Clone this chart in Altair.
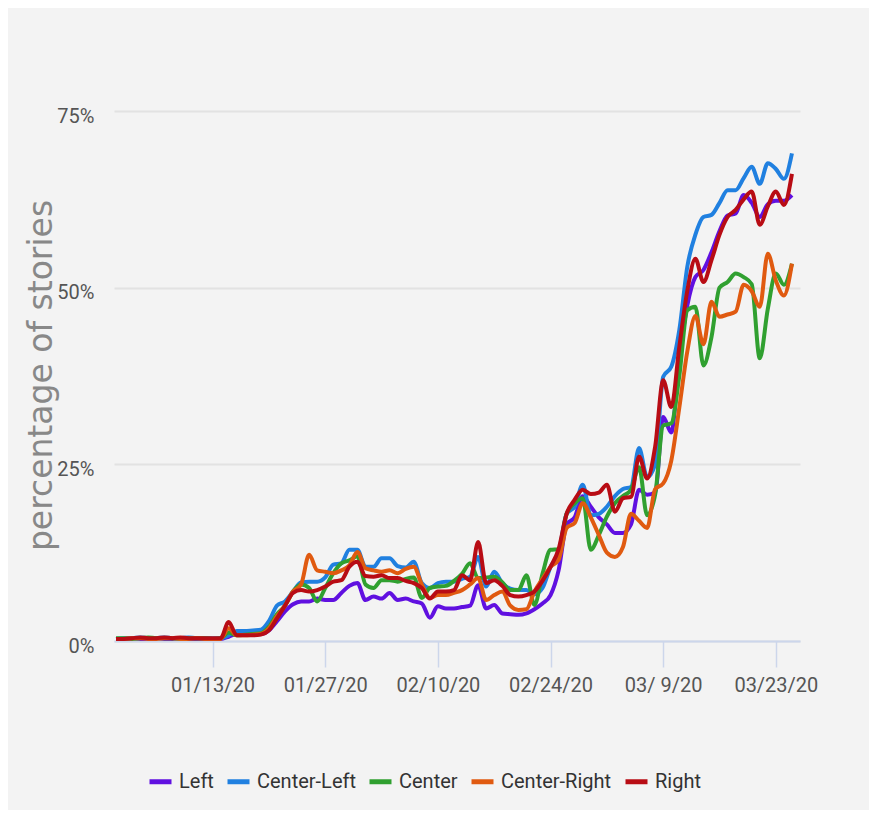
import altair as alt
import pandas as pd

# ---- data (percent of stories), daily from 2020-01-01 to 2020-03-25 ----
dates = [d.strftime("%Y-%m-%dT00:00:00") for d in pd.date_range("2020-01-01", "2020-03-25", freq="D")]

series_names = ["Left", "Center-Left", "Center", "Center-Right", "Right"]
series_colors = ["#6010e0", "#2080e0", "#30a030", "#e05a10", "#b80c14"]

left = [
    0.3, 0.3, 0.4, 0.3, 0.3, 0.4, 0.3, 0.3, 0.4, 0.3, 0.3, 0.3, 0.3, 0.3,
    0.6, 1.0, 1.0, 1.0, 1.0,
    1.5, 2.8, 4.2, 5.2, 5.6, 5.6, 6.0, 5.8, 5.8, 6.8,
    7.8, 8.2, 5.8, 6.3, 6.0, 6.8, 5.8, 6.0, 5.6, 5.3,
    3.3, 4.9, 4.6, 4.6, 4.8, 5.0, 7.9, 4.6, 5.1, 3.9,
    3.8, 3.7, 3.9, 4.5, 5.3, 6.5, 10.0, 16.5, 17.5, 20.5,
    19.0, 17.5, 16.5, 15.3, 15.3, 16.5, 21.4, 20.7, 21.0, 31.7,
    29.5, 40.0, 47.5, 51.5, 52.5, 55.0, 58.0, 60.2, 60.5, 63.1,
    62.0, 60.0, 61.8, 62.3, 62.3, 63.1,
]
center_left = [
    0.3, 0.4, 0.4, 0.5, 0.4, 0.4, 0.5, 0.4, 0.4, 0.5, 0.4, 0.4, 0.4, 0.4,
    0.8, 1.4, 1.4, 1.5, 1.6,
    2.8, 5.0, 5.6, 7.0, 8.3, 8.4, 8.4, 9.0, 10.8, 11.0,
    12.9, 12.9, 10.5, 10.5, 11.7, 11.7, 10.6, 10.4, 11.2, 8.2,
    7.5, 8.2, 8.4, 8.4, 8.8, 9.1, 11.9, 7.7, 9.8, 8.2,
    7.4, 7.2, 7.2, 6.6, 7.5, 10.5, 12.5, 18.0, 19.0, 22.1,
    17.8, 18.0, 19.0, 20.5, 21.5, 21.8, 27.3, 23.2, 25.0, 37.4,
    38.8, 44.0, 53.0, 57.5, 60.0, 60.3, 62.0, 63.8, 63.8, 65.5,
    67.1, 64.7, 67.6, 66.8, 65.4, 69.0,
]
center = [
    0.4, 0.4, 0.3, 0.4, 0.5, 0.4, 0.4, 0.4, 0.3, 0.4, 0.4, 0.4, 0.3, 0.4,
    1.2, 0.8, 0.9, 1.0, 1.1,
    2.0, 3.8, 5.0, 7.0, 8.0, 7.5, 5.6, 7.5, 9.6, 11.0,
    11.4, 12.0, 8.0, 7.5, 8.6, 8.6, 8.4, 8.8, 9.0, 6.1,
    7.5, 7.7, 7.8, 8.5, 9.5, 11.0, 8.9, 9.0, 9.1, 8.3,
    7.2, 7.2, 9.3, 5.1, 9.5, 12.9, 13.0, 18.0, 19.5, 20.2,
    12.9, 15.0, 17.6, 19.5, 20.5, 21.4, 24.6, 17.8, 20.7, 30.5,
    30.8, 37.5, 46.8, 47.3, 39.0, 43.0, 50.0, 50.8, 52.0, 51.5,
    50.5, 40.0, 47.0, 52.0, 50.4, 53.4,
]
center_right = [
    0.3, 0.3, 0.4, 0.4, 0.3, 0.3, 0.4, 0.4, 0.3, 0.3, 0.4, 0.3, 0.3, 0.3,
    1.8, 0.8, 0.8, 0.9, 1.0,
    1.8, 3.5, 5.0, 7.0, 8.0, 12.2, 10.0, 9.8, 9.6, 10.0,
    10.7, 12.6, 10.3, 10.0, 9.8, 10.0, 9.6, 10.2, 10.5, 8.0,
    6.1, 6.5, 6.5, 6.8, 7.2, 8.0, 8.9, 5.8, 6.5, 7.0,
    5.0, 4.4, 4.5, 7.0, 8.8, 10.5, 11.5, 16.0, 16.7, 19.5,
    17.5, 15.0, 12.5, 11.9, 13.3, 18.0, 17.0, 16.0, 21.5, 22.3,
    25.5, 33.0, 41.0, 46.0, 42.0, 48.0, 45.9, 46.2, 46.6, 50.4,
    49.5, 47.3, 54.8, 51.0, 48.9, 53.4,
]
right = [
    0.3, 0.3, 0.4, 0.5, 0.4, 0.4, 0.5, 0.4, 0.5, 0.4, 0.4, 0.4, 0.4, 0.4,
    2.7, 0.8, 0.8, 0.8, 0.9,
    1.5, 3.2, 5.0, 6.8, 7.2, 7.0, 7.2, 7.7, 8.4, 8.6,
    10.5, 11.2, 9.2, 9.1, 9.3, 8.9, 8.9, 8.5, 8.2, 7.5,
    6.0, 7.0, 7.0, 7.2, 9.3, 8.6, 14.0, 8.2, 8.6, 7.8,
    6.5, 6.3, 6.5, 7.0, 8.5, 10.5, 13.0, 18.0, 20.0, 21.4,
    20.8, 21.0, 22.1, 18.3, 20.2, 20.4, 26.1, 23.0, 27.5, 36.9,
    33.1, 41.6, 49.6, 54.1, 50.8, 53.9, 57.5, 60.0, 61.0, 62.5,
    63.6, 58.9, 61.5, 63.6, 61.7, 66.1,
]

all_series = [left, center_left, center, center_right, right]

rows = []
for name, vals in zip(series_names, all_series):
    for dt, v in zip(dates, vals):
        rows.append({"date": dt, "value": v / 100.0, "group": name})
df = pd.DataFrame(rows)

tick_dates = [
    alt.DateTime(year=2020, month=1, date=13),
    alt.DateTime(year=2020, month=1, date=27),
    alt.DateTime(year=2020, month=2, date=10),
    alt.DateTime(year=2020, month=2, date=24),
    alt.DateTime(year=2020, month=3, date=9),
    alt.DateTime(year=2020, month=3, date=23),
]

FONT = "Roboto, sans-serif"

chart = (
    alt.Chart(df)
    .mark_line(strokeWidth=4, interpolate="monotone")
    .encode(
        x=alt.X(
            "date:T",
            scale=alt.Scale(
                domain=[
                    alt.DateTime(year=2019, month=12, date=31, hours=18),
                    alt.DateTime(year=2020, month=3, date=26),
                ]
            ),
            axis=alt.Axis(
                title=None,
                values=tick_dates,
                format="%m/%e/%y",
                grid=False,
                domainColor="#ccd6eb",
                domainWidth=2,
                tickColor="#ccd6eb",
                tickSize=26,
                tickWidth=1.5,
                labelFont=FONT,
                labelFontSize=20,
                labelColor="#555555",
                labelPadding=8,
            ),
        ),
        y=alt.Y(
            "value:Q",
            scale=alt.Scale(domain=[0, 0.75], nice=False),
            axis=alt.Axis(
                title="percentage of stories",
                values=[0, 0.25, 0.5, 0.75],
                format=".0%",
                grid=True,
                gridColor="#e2e2e2",
                gridWidth=2,
                domain=False,
                ticks=False,
                labelFont=FONT,
                labelFontSize=20,
                labelColor="#555555",
                labelPadding=20,
                labelOffset=5,
                titleFont="DejaVu Sans",
                titleFontSize=33,
                titleFontWeight="normal",
                titleColor="#888888",
                titleAngle=270,
                titleBaseline="bottom",
                titleAlign="center",
                titleX=-56,
                titleY=264,
            ),
        ),
        color=alt.Color(
            "group:N",
            sort=series_names,
            scale=alt.Scale(domain=series_names, range=series_colors),
            legend=alt.Legend(
                title=None,
                orient="none",
                legendX=33,
                legendY=657,
                direction="horizontal",
                columns=5,
                symbolType="stroke",
                symbolStrokeWidth=5,
                symbolSize=484,
                labelFont=FONT,
                labelFontSize=20,
                labelColor="#333333",
                labelOffset=5,
                columnPadding=3,
            ),
        ),
    )
    .properties(
        width=686,
        height=530,
        autosize=alt.AutoSizeParams(type="none"),
        padding={"left": 106, "top": 103, "right": 69, "bottom": 169},
        background="#f3f3f3",
    )
    .configure_view(stroke=None)
)

chart.save("out.html", embed_options={"renderer": "svg", "actions": False})
